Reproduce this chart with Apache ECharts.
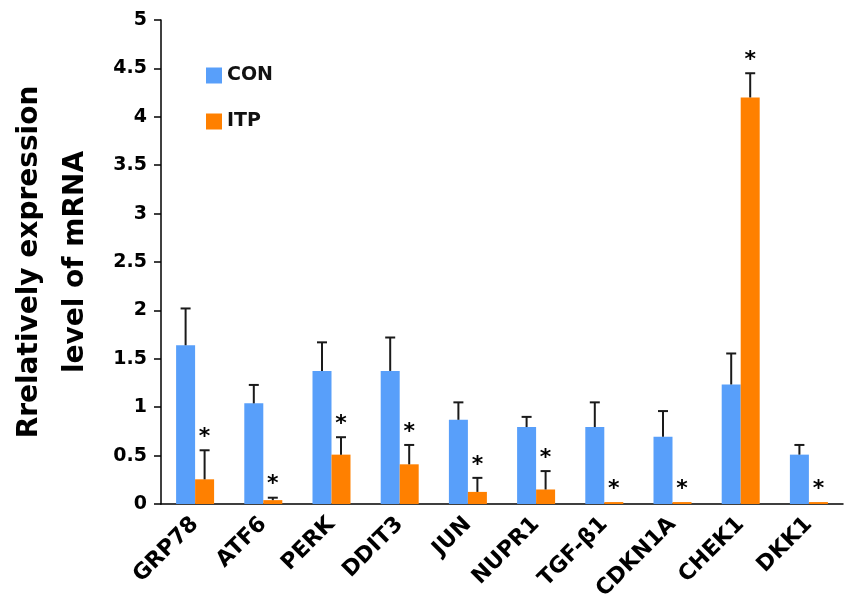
<!DOCTYPE html>
<html><head><meta charset="utf-8">
<script src="https://cdn.jsdelivr.net/npm/echarts@6/dist/echarts.min.js"></script>
<style>html,body{margin:0;padding:0;background:#fff}#c{width:846px;height:600px}</style>
</head><body><div id="c"></div>
<script>
const categories = ['GRP78','ATF6','PERK','DDIT3','JUN','NUPR1','TGF-β1','CDKN1A','CHEK1','DKK1'];
const conMean = [1.64, 1.04, 1.375, 1.375, 0.87, 0.795, 0.795, 0.695, 1.235, 0.51];
const conSd   = [0.38, 0.19, 0.295, 0.345, 0.18, 0.105, 0.255, 0.265, 0.32, 0.10];
const itpMean = [0.255, 0.04, 0.51, 0.41, 0.125, 0.15, 0.02, 0.02, 4.2, 0.02];
const itpSd   = [0.30, 0.025, 0.18, 0.20, 0.145, 0.19, 0, 0, 0.25, 0];
const itpSig  = [true, true, true, true, true, true, true, true, true, true];
const yTicks  = ['0','0.5','1','1.5','2','2.5','3','3.5','4','4.5','5'];

const BLUE = '#589ffa', ORANGE = '#ff8000';
const BW = 19;
const FONT = 'DejaVu Sans';

function errData(mean, sd, sig) {
  return mean.map((m, i) => [i, m, m + sd[i], sig ? (sig[i] ? 1 : 0) : 0, sd[i]]);
}
function errRender(offset) {
  return function (params, api) {
    const i = api.value(0);
    const top = api.value(2);
    const sd = api.value(4);
    const p0 = api.coord([i, api.value(1)]);
    const p1 = api.coord([i, top]);
    const x = p0[0] + offset;
    const children = [];
    if (sd > 0) {
      children.push({type: 'line', shape: {x1: x, y1: p0[1], x2: x, y2: p1[1]}, style: {stroke: '#1a1a1a', lineWidth: 2}});
      children.push({type: 'line', shape: {x1: x - 5, y1: p1[1], x2: x + 5, y2: p1[1]}, style: {stroke: '#1a1a1a', lineWidth: 2}});
    }
    if (api.value(3)) {
      children.push({type: 'text', style: {x: x, y: p1[1] - 13, text: '*', fill: '#000', font: 'bold 22px "DejaVu Sans"', align: 'center', verticalAlign: 'middle'}});
    }
    return {type: 'group', children: children};
  };
}

const chart = echarts.init(document.getElementById('c'), null, {renderer: 'canvas'});
chart.setOption({
  animation: false,
  backgroundColor: '#fff',
  grid: {left: 161, right: 3, top: 20, bottom: 96, containLabel: false, outerBoundsMode: 'none'},
  legend: {
    orient: 'vertical', left: 201, top: 61,
    itemWidth: 16, itemHeight: 16, itemGap: 27,
    icon: 'rect',
    data: ['CON', 'ITP'],
    textStyle: {fontFamily: FONT, fontSize: 19, fontWeight: 'bold', color: '#111'}
  },
  xAxis: {
    type: 'category', data: categories,
    axisLine: {lineStyle: {color: '#000', width: 1.5}},
    axisTick: {show: false},
    axisLabel: {rotate: 45, interval: 0, margin: 17, fontFamily: FONT, fontSize: 22, fontWeight: 'bold', color: '#000'}
  },
  yAxis: {
    type: 'value', min: 0, max: 5, interval: 0.5,
    name: 'Rrelatively expression\nlevel of mRNA',
    nameLocation: 'middle', nameGap: 62, nameRotate: 90,
    nameTextStyle: {fontFamily: FONT, fontSize: 28, fontWeight: 'bold', color: '#000', lineHeight: 46},
    axisLine: {show: true, lineStyle: {color: '#000', width: 1.5}},
    axisTick: {show: true, inside: false, length: 7, lineStyle: {color: '#000', width: 1.5}},
    splitLine: {show: false},
    axisLabel: {margin: 14, fontFamily: FONT, fontSize: 19, fontWeight: 'bold', color: '#000',
      formatter: (v) => yTicks[Math.round(v / 0.5)]}
  },
  series: [
    {name: 'CON', type: 'bar', data: conMean, barWidth: BW, barGap: '0%', itemStyle: {color: BLUE}},
    {name: 'ITP', type: 'bar', data: itpMean, barWidth: BW, barGap: '0%', itemStyle: {color: ORANGE}},
    {name: 'conErr', type: 'custom', renderItem: errRender(-BW / 2), data: errData(conMean, conSd, null), z: 5},
    {name: 'itpErr', type: 'custom', renderItem: errRender(BW / 2), data: errData(itpMean, itpSd, itpSig), z: 5}
  ]
});
</script></body></html>
